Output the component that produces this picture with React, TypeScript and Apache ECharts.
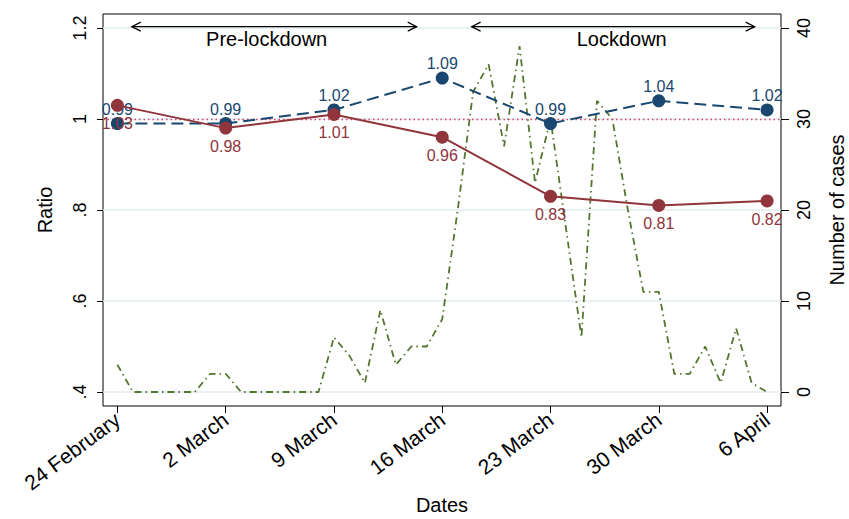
import React, { useEffect, useRef } from 'react';
import * as echarts from 'echarts';

// ---- data ----
const tickDays = [0, 7, 14, 21, 28, 35, 42];
const tickLabels = ['24 February', '2 March', '9 March', '16 March', '23 March', '30 March', '6 April'];
const weeklyDays = [0, 7, 14, 21, 28, 35, 42];
const ratioBlue = [0.99, 0.99, 1.02, 1.09, 0.99, 1.04, 1.02];
const ratioRed = [1.03, 0.98, 1.01, 0.96, 0.83, 0.81, 0.82];
const dailyCases = [
  3, 0, 0, 0, 0, 0, 2, 2, 0, 0, 0, 0, 0, 0, 6, 4, 1, 9, 3, 5, 5, 8,
  20, 33, 36, 27, 38, 23, 30, 18, 6, 32, 30, 20, 11, 11, 2, 2, 5, 1, 7, 1, 0,
];
const ratioTicks = [0.4, 0.6, 0.8, 1, 1.2];
const ratioTickLabels = ['.4', '.6', '.8', '1', '1.2'];
const caseTicks = [0, 10, 20, 30, 40];
const referenceRatio = 1;

// annotation spans (in days from 24 February)
const phaseLabels = ['Pre-lockdown', 'Lockdown'];
const phaseStart = [0.93, 22.9];
const phaseEnd = [19.35, 41.2];
const phaseTextDay = [9.65, 32.6];
const arrowLevel = 1.203;
const phaseTextLevel = 1.176;

const FONT = '"Liberation Sans", Arial, Helvetica, sans-serif';
const NAVY = '#1a476f';
const MAROON = '#90353b';
const GREEN = '#55752f';

export default function App() {
  const ref = useRef<HTMLDivElement>(null);
  useEffect(() => {
    const chart = echarts.init(ref.current!, undefined, { renderer: 'svg' });
    const option: any = {
      animation: false,
      backgroundColor: '#fff',
      textStyle: { fontFamily: FONT },
      grid: {
        left: 103, top: 14, right: 68, bottom: 113,
        containLabel: false,
        outerBoundsMode: 'none',
        show: true, borderColor: '#000', borderWidth: 1, backgroundColor: 'transparent',
      },
      xAxis: {
        type: 'value',
        min: -0.93,
        max: 42.9,
        name: 'Dates',
        nameLocation: 'middle',
        nameGap: 89,
        nameMoveOverlap: false,
        nameTextStyle: { fontSize: 20, color: '#000', fontFamily: FONT },
        axisLine: { show: false, onZero: false },
        axisTick: { show: true, length: 7, customValues: tickDays, lineStyle: { color: '#000', width: 1 } },
        axisLabel: {
          customValues: tickDays,
          rotate: 37,
          margin: 11,
          fontSize: 21,
          color: '#000',
          fontFamily: FONT,
          formatter: (v: number) => tickLabels[tickDays.indexOf(Math.round(v))] ?? '',
        },
        splitLine: { show: false },
      },
      yAxis: [
        {
          type: 'value',
          min: 0.3692,
          max: 1.2308,
          name: 'Ratio',
          nameLocation: 'middle',
          nameRotate: 90,
          nameGap: 48,
          nameMoveOverlap: false,
          nameTextStyle: { fontSize: 20, color: '#000', fontFamily: FONT },
          axisLine: { show: false, onZero: false },
          axisTick: { show: true, length: 6, customValues: ratioTicks, lineStyle: { color: '#000' } },
          axisLabel: {
            customValues: ratioTicks,
            rotate: 90,
            margin: 14,
            fontSize: 18,
            color: '#000',
            fontFamily: FONT,
            align: 'center',
            verticalAlign: 'bottom',
            formatter: (v: number) => {
              const i = ratioTicks.findIndex((t) => Math.abs(t - v) < 1e-6);
              return i >= 0 ? ratioTickLabels[i] : '';
            },
          },
          splitLine: { show: true, lineStyle: { color: '#e2ebf0', width: 1.5 } },
        },
        {
          type: 'value',
          min: -1.54,
          max: 41.54,
          position: 'right',
          name: 'Number of cases',
          nameLocation: 'middle',
          nameRotate: 90,
          nameGap: 46,
          nameMoveOverlap: false,
          nameTextStyle: { fontSize: 20, color: '#000', fontFamily: FONT },
          axisLine: { show: false, onZero: false },
          axisTick: { show: true, length: 8, customValues: caseTicks, lineStyle: { color: '#000' } },
          axisLabel: {
            customValues: caseTicks,
            rotate: 90,
            margin: 14,
            fontSize: 18,
            color: '#000',
            fontFamily: FONT,
            align: 'center',
            verticalAlign: 'top',
          },
          splitLine: { show: false },
        },
      ],
      series: [
        {
          type: 'line',
          name: 'cases',
          yAxisIndex: 1,
          data: dailyCases.map((v, i) => [i, v]),
          showSymbol: false,
          symbol: 'none',
          lineStyle: { color: GREEN, width: 1.8, type: [7, 4, 1.5, 4] },
          z: 1,
        },
        {
          type: 'line',
          name: 'blue',
          data: weeklyDays.map((d, i) => [d, ratioBlue[i]]),
          symbol: 'circle',
          symbolSize: 13,
          itemStyle: { color: NAVY },
          lineStyle: { color: NAVY, width: 2, type: [12, 6] },
          label: {
            show: true, position: 'top', distance: 0, fontSize: 16, color: NAVY, fontFamily: FONT,
            formatter: (p: any) => p.value[1].toFixed(2),
          },
          z: 3,
        },
        {
          type: 'line',
          name: 'red',
          data: weeklyDays.map((d, i) => [d, ratioRed[i]]),
          symbol: 'circle',
          symbolSize: 13,
          itemStyle: { color: MAROON },
          lineStyle: { color: MAROON, width: 2 },
          label: {
            show: true, position: 'bottom', distance: 4, fontSize: 16, color: MAROON, fontFamily: FONT,
            formatter: (p: any) => p.value[1].toFixed(2),
          },
          markLine: {
            silent: true,
            symbol: 'none',
            label: { show: false },
            lineStyle: { color: '#d9426a', type: [1.5, 3], width: 1.3 },
            data: [{ yAxis: referenceRatio }],
            z: 2,
          },
          z: 4,
        },
      ],
    };
    chart.setOption(option);

    const px = (d: number, r: number) =>
      chart.convertToPixel({ xAxisIndex: 0, yAxisIndex: 0 }, [d, r]) as number[];
    const graphics: any[] = [];
    phaseLabels.forEach((lab, i) => {
      const [x1, y] = px(phaseStart[i], arrowLevel);
      const [x2] = px(phaseEnd[i], arrowLevel);
      const [tx, ty] = px(phaseTextDay[i], phaseTextLevel);
      const st = { stroke: '#000', lineWidth: 1.2, fill: null };
      graphics.push({ type: 'line', shape: { x1, y1: y, x2, y2: y }, style: st, z: 10 });
      graphics.push({ type: 'polyline', shape: { points: [[x1 + 9, y - 4.5], [x1, y], [x1 + 9, y + 4.5]] }, style: st, z: 10 });
      graphics.push({ type: 'polyline', shape: { points: [[x2 - 9, y - 4.5], [x2, y], [x2 - 9, y + 4.5]] }, style: st, z: 10 });
      graphics.push({
        type: 'text', x: tx, y: ty, z: 10,
        style: { text: lab, fontSize: 20, fontFamily: FONT, fill: '#000', align: 'center', verticalAlign: 'middle', textAlign: 'center', textVerticalAlign: 'middle' },
      });
    });
    chart.setOption({ graphic: graphics });
    return () => chart.dispose();
  }, []);
  return <div ref={ref} style={{ position: 'fixed', left: 0, top: 0, width: 849, height: 519, background: '#fff' }} />;
}
